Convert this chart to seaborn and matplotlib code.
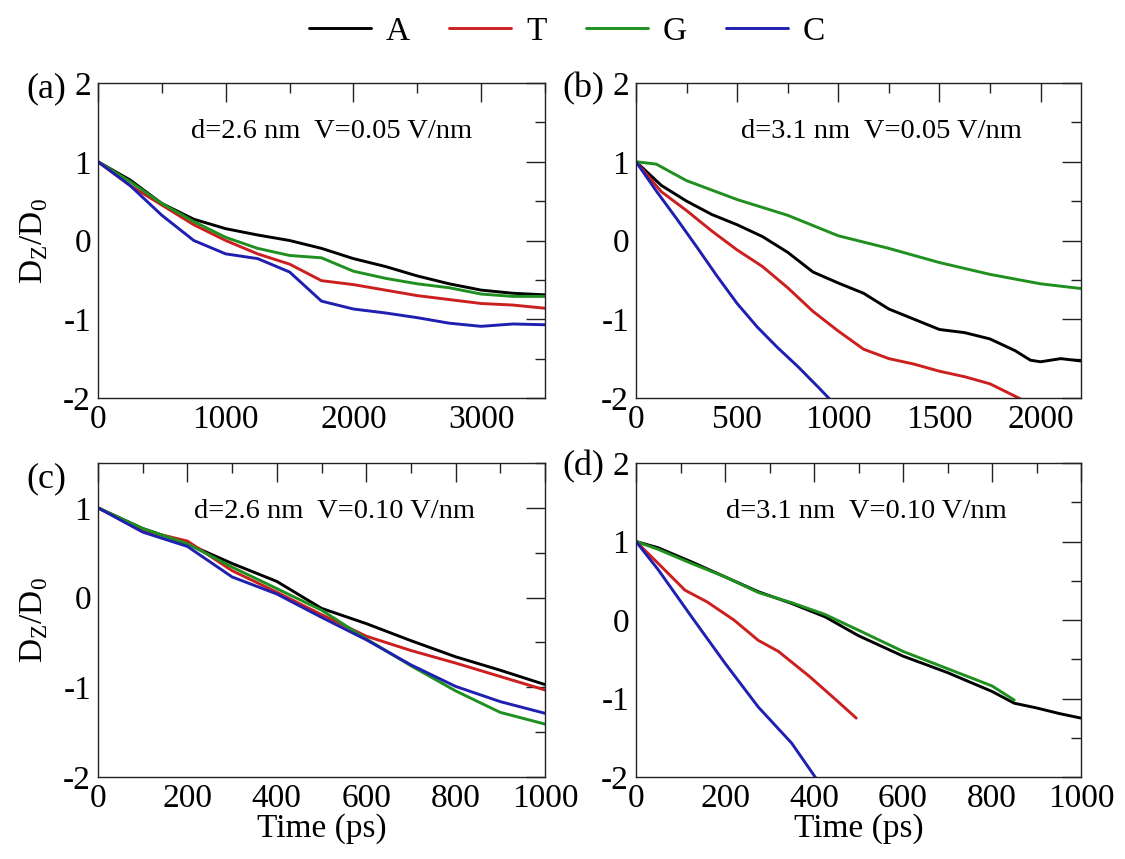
# D_Z/D_0 vs time for the four bases in four nanopore conditions
import pandas as pd
import matplotlib
matplotlib.use("Agg")
import matplotlib.pyplot as plt
from matplotlib.ticker import MultipleLocator, FormatStrFormatter
import seaborn as sns

bases = ["A", "T", "G", "C"]
colors = ["black", "#cc1f1f", "#1f8f1f", "#1f1fb0"]

# (a) d=2.6 nm, V=0.05 V/nm
t_a = [0, 250, 500, 750, 1000, 1250, 1500, 1750, 2000, 2250, 2500, 2750, 3000, 3250, 3500]
a_A = [1, 0.77, 0.47, 0.27, 0.15, 0.07, 0.0, -0.1, -0.23, -0.33, -0.45, -0.55, -0.63, -0.67, -0.69]
a_T = [1, 0.7, 0.45, 0.2, 0.0, -0.17, -0.3, -0.51, -0.56, -0.63, -0.7, -0.75, -0.8, -0.82, -0.86]
a_G = [1, 0.75, 0.47, 0.24, 0.04, -0.1, -0.19, -0.22, -0.39, -0.48, -0.55, -0.6, -0.68, -0.71, -0.71]
a_C = [1, 0.7, 0.32, 0.0, -0.17, -0.23, -0.4, -0.77, -0.87, -0.92, -0.98, -1.05, -1.09, -1.06, -1.07]

# (b) d=3.1 nm, V=0.05 V/nm
tb_A = [0, 125, 250, 375, 500, 625, 750, 875, 1000, 1125, 1250, 1375, 1500, 1625, 1750, 1875, 1950, 2000, 2100, 2200]
b_A = [1, 0.7, 0.5, 0.33, 0.2, 0.05, -0.15, -0.4, -0.54, -0.67, -0.87, -1.0, -1.13, -1.17, -1.25, -1.4, -1.52, -1.54, -1.5, -1.53]
tb_T = [0, 125, 250, 375, 500, 625, 750, 875, 1000, 1125, 1250, 1375, 1500, 1625, 1750, 1900]
b_T = [1, 0.62, 0.38, 0.12, -0.12, -0.33, -0.6, -0.9, -1.15, -1.38, -1.5, -1.57, -1.66, -1.73, -1.82, -2.01]
tb_G = [0, 100, 250, 500, 750, 1000, 1250, 1500, 1750, 2000, 2200]
b_G = [1, 0.97, 0.76, 0.52, 0.32, 0.06, -0.1, -0.28, -0.43, -0.55, -0.61]
tb_C = [0, 100, 200, 300, 400, 500, 600, 700, 800, 900, 960]
b_C = [1, 0.63, 0.28, -0.08, -0.45, -0.8, -1.1, -1.36, -1.6, -1.86, -2.02]

# (c) d=2.6 nm, V=0.10 V/nm
t_c = [0, 100, 200, 300, 400, 500, 600, 700, 800, 900, 1000]
c_A = [1, 0.77, 0.6, 0.38, 0.18, -0.12, -0.29, -0.48, -0.66, -0.81, -0.97]
c_T = [1, 0.75, 0.63, 0.3, 0.06, -0.19, -0.43, -0.59, -0.73, -0.88, -1.03]
c_G = [1, 0.77, 0.6, 0.34, 0.1, -0.14, -0.46, -0.76, -1.04, -1.28, -1.41]
c_C = [1, 0.73, 0.57, 0.23, 0.04, -0.22, -0.47, -0.75, -0.99, -1.16, -1.29]

# (d) d=3.1 nm, V=0.10 V/nm
td_A = [0, 50, 125, 200, 275, 350, 425, 500, 600, 700, 800, 850, 900, 950, 1000]
d_A = [1, 0.92, 0.74, 0.55, 0.36, 0.21, 0.04, -0.2, -0.46, -0.67, -0.91, -1.06, -1.12, -1.19, -1.25]
td_T = [0, 50, 110, 160, 220, 275, 320, 390, 450, 495]
d_T = [1, 0.72, 0.38, 0.23, 0.0, -0.26, -0.4, -0.72, -1.02, -1.25]
td_G = [0, 50, 125, 200, 275, 350, 425, 500, 600, 700, 800, 850]
d_G = [1, 0.9, 0.72, 0.55, 0.35, 0.22, 0.07, -0.13, -0.4, -0.62, -0.84, -1.02]
td_C = [0, 50, 125, 200, 275, 350, 405]
d_C = [1, 0.64, 0.04, -0.55, -1.11, -1.57, -2.02]

titles = ["d=2.6 nm  V=0.05 V/nm", "d=3.1 nm  V=0.05 V/nm",
          "d=2.6 nm  V=0.10 V/nm", "d=3.1 nm  V=0.10 V/nm"]
panel_tags = ["(a)", "(b)", "(c)", "(d)"]


def long_df(pairs):
    frames = []
    for base, (t, v) in zip(bases, pairs):
        frames.append(pd.DataFrame({"t": t, "v": v, "base": base}))
    return pd.concat(frames, ignore_index=True)


panels = [
    long_df([(t_a, a_A), (t_a, a_T), (t_a, a_G), (t_a, a_C)]),
    long_df([(tb_A, b_A), (tb_T, b_T), (tb_G, b_G), (tb_C, b_C)]),
    long_df([(t_c, c_A), (t_c, c_T), (t_c, c_G), (t_c, c_C)]),
    long_df([(td_A, d_A), (td_T, d_T), (td_G, d_G), (td_C, d_C)]),
]

sns.set_theme(style="white")
plt.rcParams["font.family"] = ["Liberation Serif", "DejaVu Serif"]
plt.rcParams["mathtext.fontset"] = "custom"
plt.rcParams["mathtext.rm"] = "Liberation Serif"
plt.rcParams["axes.unicode_minus"] = False
for key in ["text.color", "axes.labelcolor", "xtick.color", "ytick.color"]:
    plt.rcParams[key] = "black"

fig = plt.figure(figsize=(11.25, 8.59), dpi=100)
W, H = 1125, 859
boxes = [(98, 83, 447, 315), (636, 83, 445, 315), (98, 463, 447, 314), (636, 463, 445, 314)]
xlims = [3500, 2200, 1000, 1000]
xmaj = [1000, 500, 200, 200]
ytops = [2, 2, 1.5, 2]
text_x = [0.522, 0.551, 0.53, 0.517]
tag_y = [0.956, 0.956, 0.924, 0.962]

axes = []
for i, (x0, y0, w, h) in enumerate(boxes):
    ax = fig.add_axes([x0 / W, 1 - (y0 + h) / H, w / W, h / H])
    sns.lineplot(data=panels[i], x="t", y="v", hue="base", hue_order=bases,
                 palette=colors, estimator=None, sort=False, lw=2.1,
                 ax=ax, legend=(i == 0))
    ax.set_xlim(0, xlims[i])
    ax.set_ylim(-2, ytops[i])
    ax.xaxis.set_major_locator(MultipleLocator(xmaj[i]))
    ax.xaxis.set_minor_locator(MultipleLocator(xmaj[i] / 2))
    ax.yaxis.set_major_locator(MultipleLocator(1))
    ax.yaxis.set_minor_locator(MultipleLocator(0.5))
    ax.yaxis.set_major_formatter(FormatStrFormatter("%d"))
    ax.tick_params(which="both", direction="in", top=True, right=True,
                   labelsize=24, pad=5, width=1, color="#222222",
                   labelcolor="black")
    ax.tick_params(which="major", length=14)
    ax.tick_params(which="minor", length=7)
    for s in ax.spines.values():
        s.set_linewidth(1.0)
        s.set_color("#222222")
    ax.set_xlabel("")
    ax.set_ylabel("")
    ax.text(text_x[i], 0.826, titles[i], transform=ax.transAxes,
            ha="center", va="baseline", fontsize=20.5, color="black")
    ax.text(-0.07, tag_y[i], panel_tags[i], transform=ax.transAxes,
            ha="right", va="baseline", fontsize=26, color="black")
    axes.append(ax)

for ax in (axes[0], axes[2]):
    ax.set_ylabel(r"D$_\mathrm{Z}$/D$_\mathrm{0}$", fontsize=24, color="black")
    ax.yaxis.set_label_coords(-0.107, 0.5)
for ax in (axes[2], axes[3]):
    ax.set_xlabel("Time (ps)", fontsize=24, color="black")
    ax.xaxis.set_label_coords(0.5, -0.115)

handles, labels = axes[0].get_legend_handles_labels()
axes[0].get_legend().remove()
leg = fig.legend(handles, labels, loc="center", bbox_to_anchor=(0.504, 0.963),
                 ncol=4, frameon=False, fontsize=24, handlelength=1.86,
                 handletextpad=0.45, columnspacing=1.17)
for txt in leg.get_texts():
    txt.set_color("black")

fig.savefig("out.png", dpi=100)
